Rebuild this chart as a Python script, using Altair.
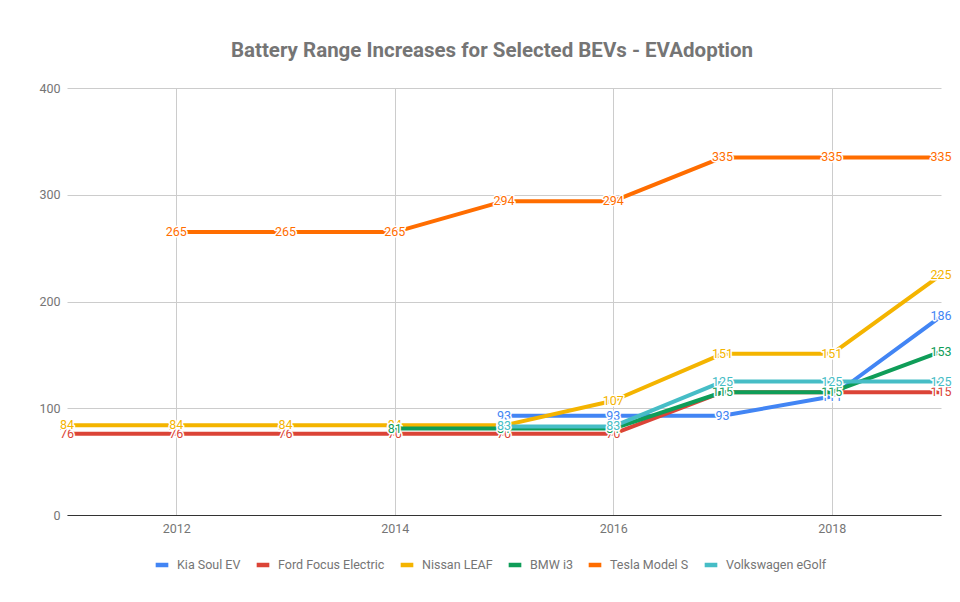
import altair as alt
import pandas as pd

years = [2011, 2012, 2013, 2014, 2015, 2016, 2017, 2018, 2019]
series = ["Kia Soul EV", "Ford Focus Electric", "Nissan LEAF", "BMW i3",
          "Tesla Model S", "Volkswagen eGolf"]
kia_soul_ev = [None, None, None, None, 93, 93, 93, 111, 186]
ford_focus_electric = [76, 76, 76, 76, 76, 76, 115, 115, 115]
nissan_leaf = [84, 84, 84, 84, 84, 107, 151, 151, 225]
bmw_i3 = [None, None, None, 81, 81, 81, 115, 115, 153]
tesla_model_s = [None, 265, 265, 265, 294, 294, 335, 335, 335]
volkswagen_egolf = [None, None, None, None, 83, 83, 125, 125, 125]
colors = ["#4285F4", "#DB4437", "#F4B400", "#0F9D58", "#FF6D00", "#46BDC6"]

all_values = [kia_soul_ev, ford_focus_electric, nissan_leaf, bmw_i3,
              tesla_model_s, volkswagen_egolf]
rows = []
for name, vals in zip(series, all_values):
    for yr, v in zip(years, vals):
        if v is not None:
            rows.append({"year": yr, "series": name, "range": v})
df = pd.DataFrame(rows)

FONT = "Roboto"
GREY = "#757575"

x = alt.X("year:Q",
          scale=alt.Scale(domain=[2011, 2019], nice=False, zero=False),
          axis=alt.Axis(values=[2012, 2014, 2016, 2018], format="d", title=None,
                        grid=True, gridColor="#cccccc", ticks=False,
                        domain=True, domainColor="#333333", domainWidth=1,
                        labelPadding=7, labelFontSize=12.5, labelColor=GREY,
                        labelFont=FONT))
y = alt.Y("range:Q",
          scale=alt.Scale(domain=[0, 400], nice=False),
          axis=alt.Axis(values=[0, 100, 200, 300, 400], title=None,
                        grid=True, gridColor="#cccccc", ticks=False,
                        domain=False, labelPadding=7, labelFontSize=12.5,
                        labelColor=GREY, labelFont=FONT))

stroke_scale = alt.Scale(domain=series, range=colors)
legend = alt.Legend(title=None, orient="none", legendX=86, legendY=468,
                    direction="horizontal", columns=6, symbolType="stroke",
                    symbolSize=160, symbolStrokeWidth=4.5, labelFont=FONT,
                    labelFontSize=12.5, labelColor=GREY, labelOffset=6,
                    columnPadding=6)

layers = []
for name in series:
    base = alt.Chart().transform_filter(alt.datum.series == name)
    line = base.mark_line(strokeWidth=4, strokeJoin="round").encode(
        x=x, y=y,
        color=alt.Color("series:N", scale=stroke_scale, legend=legend))
    halo = base.mark_text(font=FONT, fontSize=12.5, stroke="white",
                          strokeWidth=3, fill="white", strokeJoin="round",
                          align="center", baseline="middle").encode(
        x=x, y=y, text="range:Q")
    txt = base.mark_text(font=FONT, fontSize=12.5, align="center",
                         baseline="middle").encode(
        x=x, y=y, text="range:Q",
        fill=alt.Fill("series:N", scale=alt.Scale(domain=series, range=colors),
                      legend=None))
    layers += [line, halo, txt]

chart = alt.layer(*layers, data=df).properties(
    width=874, height=427,
    autosize="none",
    padding={"left": 59, "top": 80, "right": 11, "bottom": 79},
    title=alt.TitleParams(
        "Battery Range Increases for Selected BEVs - EVAdoption",
        anchor="middle", frame="group", fontSize=20.5, font=FONT,
        fontWeight="bold", color=GREY, offset=21, dx=-12),
).configure_view(stroke=None)

chart.save("out.html", embed_options={"renderer": "svg", "actions": False})
